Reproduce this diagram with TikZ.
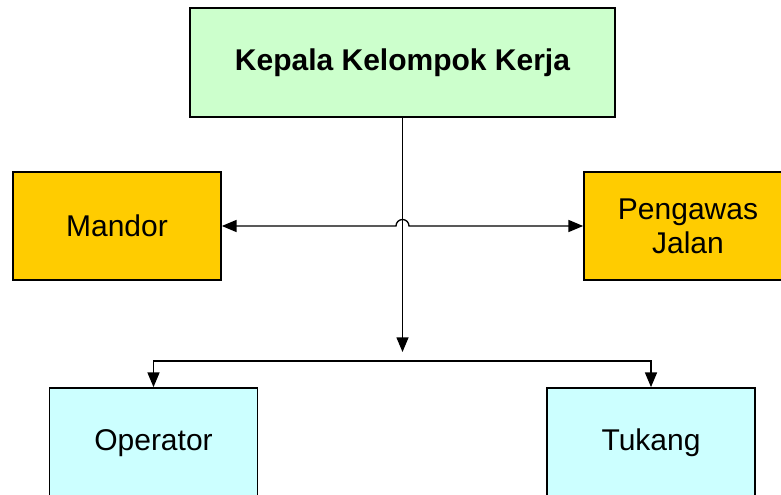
\documentclass[tikz,border=0pt]{standalone}
\usepackage{fontspec}
\setmainfont{Liberation Sans}
\usetikzlibrary{arrows.meta}
\definecolor{kepalagreen}{HTML}{CCFFCC}
\definecolor{mandoryellow}{HTML}{FFCC00}
\definecolor{stafcyan}{HTML}{CCFFFF}

\begin{document}
\begin{tikzpicture}[x=0.75pt, y=-0.75pt, >={Triangle[length=11pt,width=9pt]}]
  % Define styles
  \tikzstyle{box} = [rectangle, draw, line width=1.3pt, inner sep=0pt, align=center, font=\fontsize{22.5}{25.5}\selectfont]
  \tikzstyle{head} = [box, fill=kepalagreen, minimum width=318.75pt, minimum height=81.75pt, font=\fontsize{22.5}{25.5}\selectfont\bfseries]
  \tikzstyle{staff} = [box, fill=mandoryellow, minimum width=156pt, minimum height=81pt]
  \tikzstyle{worker} = [box, fill=stafcyan, minimum width=156pt, minimum height=82.5pt]
  \tikzstyle{link} = [line width=1pt]

  \useasboundingbox (0,0) rectangle (781,495);
  \clip (0,0) rectangle (781,495);

  % Head of working group
  \node[head] (kepala) at (402.5,62.5) {Kepala Kelompok Kerja};

  % Side staff
  \node[staff] (mandor) at (117,226) {Mandor};
  \node[staff] (pengawas) at (688,226) {Pengawas\\Jalan};

  % Workers
  \node[worker] (operator) at (153.5,443) {Operator};
  \node[worker] (tukang) at (651,443) {Tukang};

  % Helper points
  \coordinate (hopL) at (396,226);
  \coordinate (hopR) at (409,226);
  \coordinate (split) at (402.5,352);
  \coordinate (bus) at (402.5,361);

  % Arrows
  \draw[link, ->] (kepala.south) -- (split);
  \draw[link, <->] (mandor.east) -- (hopL) arc[start angle=180, end angle=360, radius=6.5] -- (pengawas.west);
  \draw[link, ->] (bus) -| (operator.north);
  \draw[link, ->] (bus) -| (tukang.north);
\end{tikzpicture}
\end{document}
